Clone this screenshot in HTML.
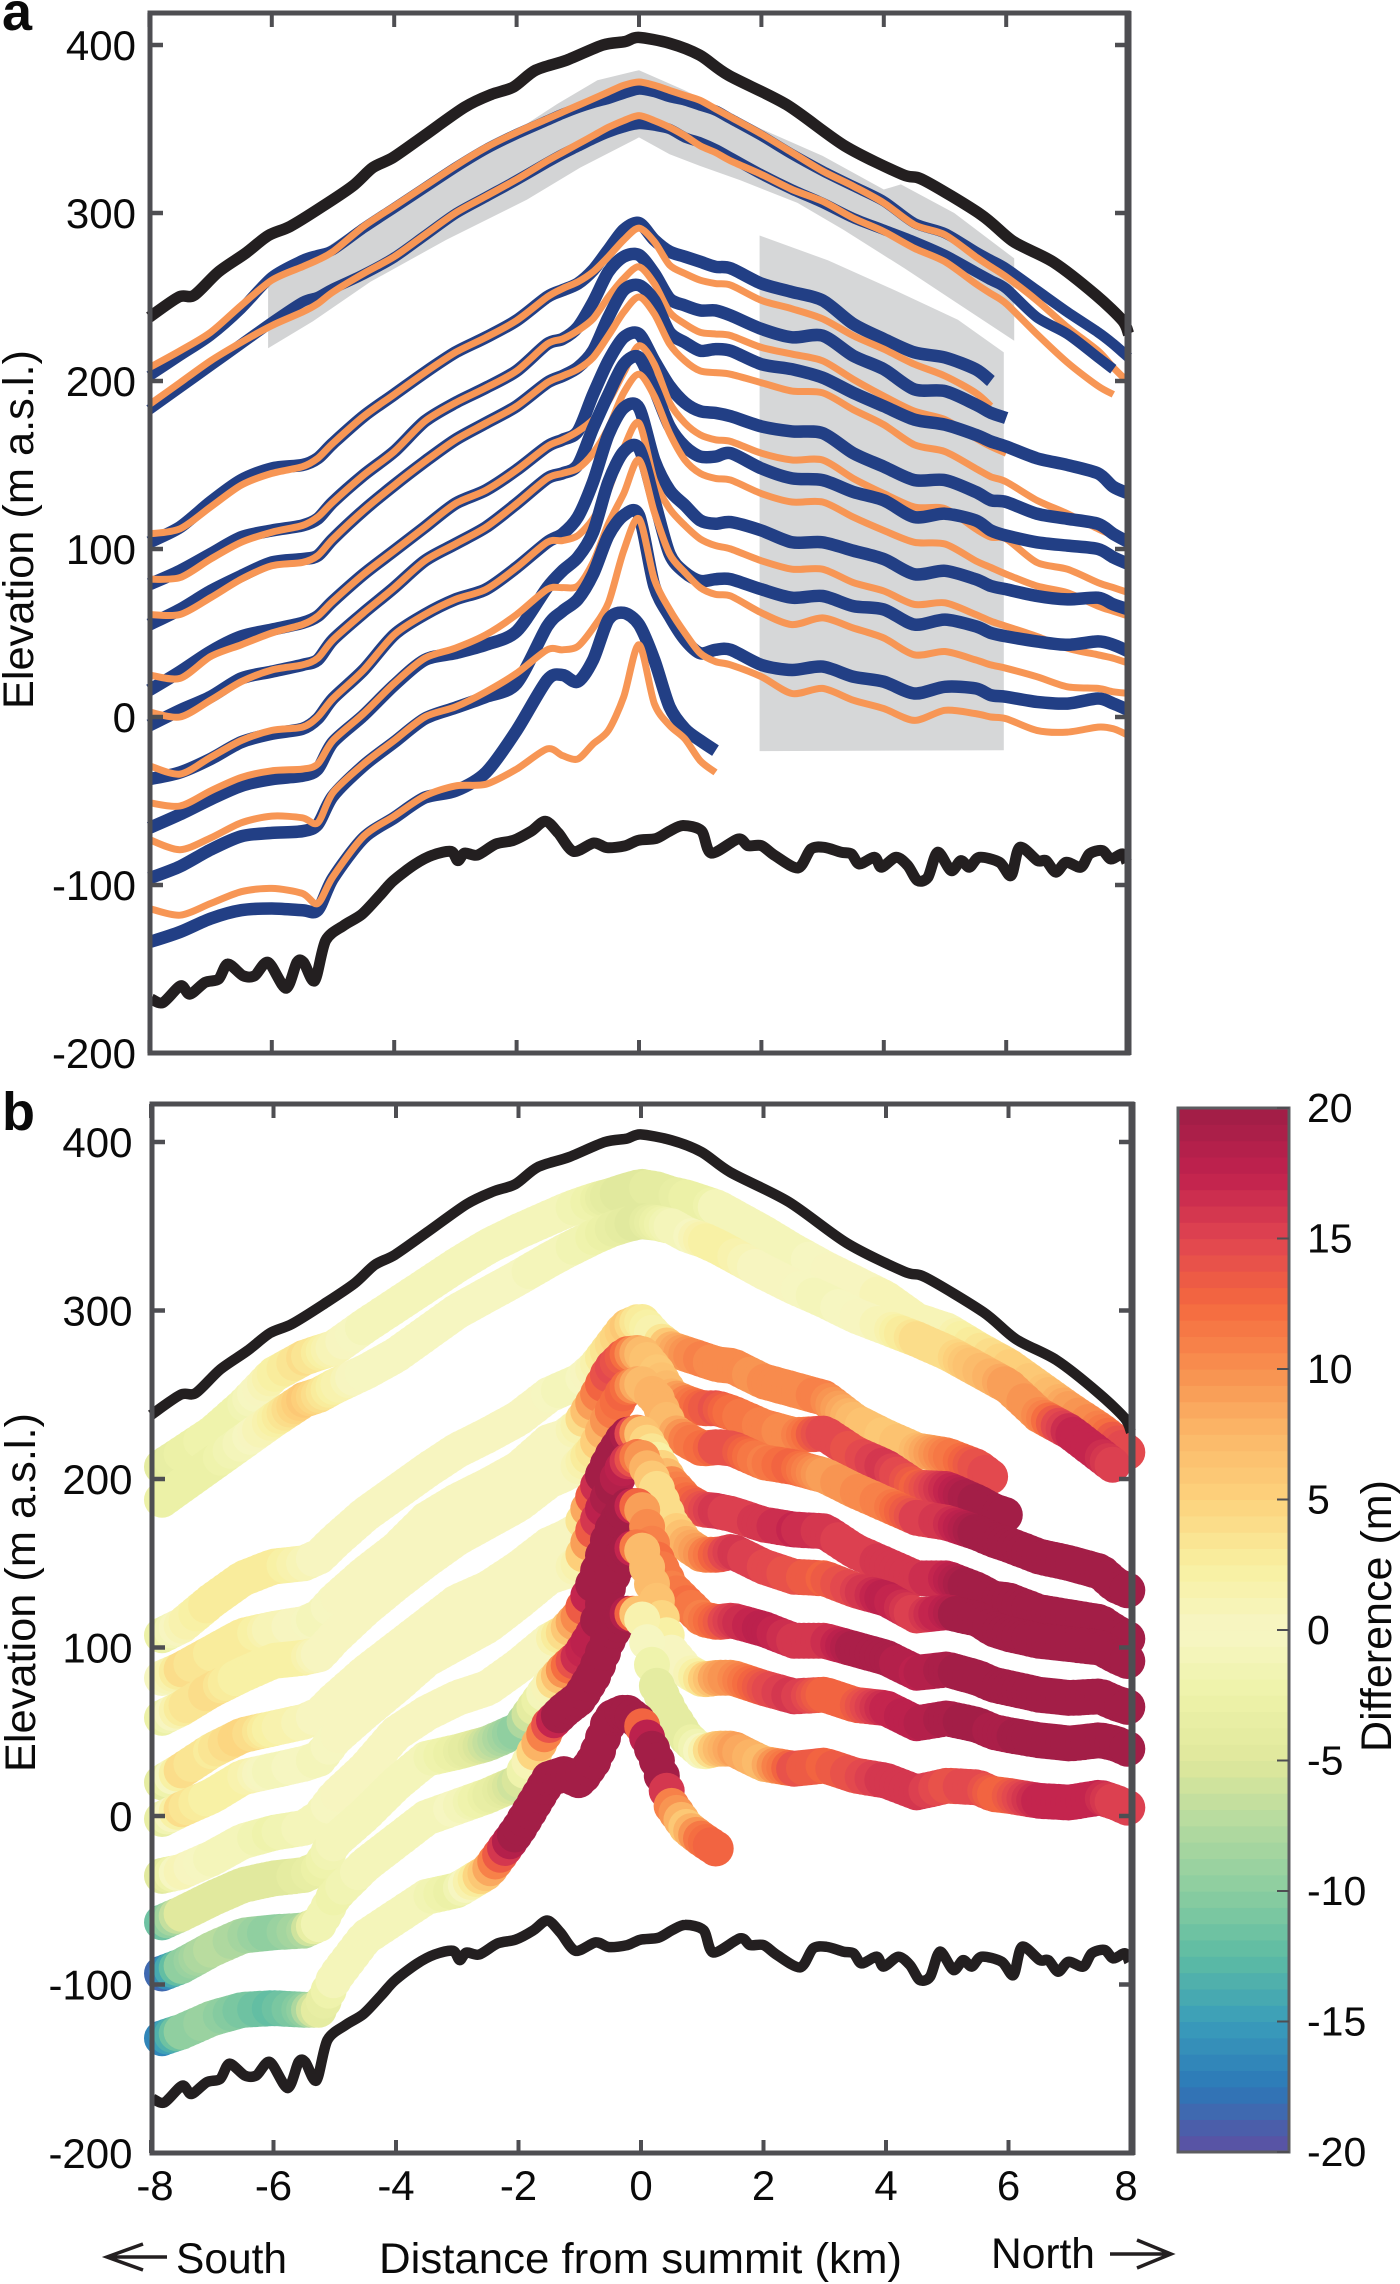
<!DOCTYPE html>
<html lang="en">
<head>
<meta charset="utf-8">
<title>Elevation profiles and difference</title>
<style>
html,body{margin:0;padding:0;background:#fff}
svg{display:block}
text{font-family:"Liberation Sans",sans-serif;fill:#0a0a0a}
</style>
</head>
<body>
<svg id="chart" xmlns="http://www.w3.org/2000/svg" width="1400" height="2284" viewBox="0 0 1400 2284">
<rect x="0" y="0" width="1400" height="2284" fill="#fff"/>
<g id="panelA"></g>
<g id="panelB"></g>
<g id="colorbar"></g>
<text x="2" y="30" font-size="54" font-weight="700">a</text>
<text x="2" y="1130" font-size="54" font-weight="700">b</text>
<text transform="translate(33,529.5) rotate(-90)" text-anchor="middle" font-size="43" textLength="359" lengthAdjust="spacingAndGlyphs">Elevation (m a.s.l.)</text>
<text transform="translate(35,1592.5) rotate(-90)" text-anchor="middle" font-size="43" textLength="359" lengthAdjust="spacingAndGlyphs">Elevation (m a.s.l.)</text>
<text transform="translate(1391,1616) rotate(-90)" text-anchor="middle" font-size="43" textLength="272" lengthAdjust="spacingAndGlyphs">Difference (m)</text>
<text x="379" y="2273" font-size="42.5" textLength="523" lengthAdjust="spacingAndGlyphs">Distance from summit (km)</text>
<text x="176" y="2273" font-size="42.5">South</text>
<text x="991" y="2268" font-size="42.5">North</text>
<path d="M167 2257H107M143 2244L107 2257L143 2270" fill="none" stroke="#231f20" stroke-width="3.5"/>
<path d="M1110 2254H1171M1137 2240L1171 2254L1137 2268" fill="none" stroke="#231f20" stroke-width="3.5"/>
</svg>
<script>
// ---------- shared axes data ----------
const xTicks = [-8,-6,-4,-2,0,2,4,6,8];
const yTicks = [400,300,200,100,0,-100,-200];
const colorTicks = [20,15,10,5,0,-5,-10,-15,-20];

// colour scale: difference (m) and colours
const colorStopValues = [-20,-17.5,-15,-12.5,-10,-7.5,-5,-2.5,0,2.5,5,7.5,10,12.5,15,17.5,20];
const colorStopHex = ['#5e4fa2','#2c78b8','#3a9dba','#5dbca3','#8bcda0','#b3da9f','#dfe89c','#eef2a8','#f7f6c4','#f8f0a0','#fdd27c','#fbb868','#f8904f','#f4693f','#e04450','#c0214e','#9f1d46'];

// ---------- distance grid used by all radar/model profiles (km) ----------
const kmGrid = [-8,-7.5,-7,-6.5,-6,-5.5,-5.25,-5,-4.5,-4,-3.5,-3,-2.5,-2,-1.5,-1.25,-1,-0.75,-0.5,-0.25,0,
  0.25,0.5,0.75,1,1.25,1.5,2,2.5,3,3.5,4,4.5,5,5.5,5.75,6,6.5,7,7.5,7.75,8];

// ---------- surface and bed (black lines) ----------
const surfaceKm = [-8,-7.52,-7.27,-6.87,-6.43,-6.06,-5.7,-5.19,-4.68,-4.35,-4.02,-3.51,-2.85,-2.42,-2.05,-1.69,-1.18,-0.59,-0.23,-0.01,0.5,0.99,1.46,2.41,3.36,4.3,4.65,5.59,6.12,6.78,7.47,7.9,8];
const surfaceElev = [238,250,251,265,276,286.5,292,303.5,316,327,333,346,363,370.5,375,385,391,400,402,404.5,401,394,382,364.5,340,323,319.6,299,283,270.6,251,236,228];
const bedKm = [-7.96,-7.78,-7.49,-7.34,-7.09,-6.87,-6.72,-6.47,-6.28,-6.06,-5.77,-5.59,-5.48,-5.3,-5.12,-4.82,-4.53,-4.24,-4.02,-3.66,-3.37,-3.07,-2.96,-2.85,-2.64,-2.34,-2.05,-1.76,-1.53,-1.32,-1.07,-0.74,-0.52,-0.23,-0.01,0.28,0.5,0.72,1.02,1.18,1.62,1.78,2,2.22,2.6,2.81,3.03,3.3,3.47,3.6,3.85,3.96,4.2,4.39,4.55,4.72,4.88,5.1,5.26,5.4,5.56,5.89,6.08,6.22,6.51,6.65,6.81,6.98,7.22,7.36,7.57,7.71,7.9,7.97];
const bedElev = [-168,-170,-160,-165,-158,-156,-147,-154,-154,-146,-161.5,-146,-146,-157,-133,-124,-117.5,-106.4,-97.6,-87.7,-82.2,-80,-85.5,-81,-82.2,-75.6,-73.4,-67.9,-62,-69,-80,-75,-77.8,-76.7,-73.4,-72.3,-67.9,-64.6,-67.7,-81,-72.6,-76.6,-76.6,-82.5,-89.8,-78.6,-77.6,-80.5,-81.5,-87.5,-83.5,-89.4,-83.5,-88.4,-97.3,-95.4,-80.5,-91.4,-85.5,-89.4,-83.5,-86.5,-94.4,-77.6,-85.5,-85.5,-92.4,-86.5,-89.4,-81.5,-79.5,-84.5,-81.5,-86.5];

// ---------- grey uncertainty patches ----------
const patchUpperKm = [-6.06,-6.06,-5.33,-4.39,-3.15,-2.05,-1.33,-0.68,0,0.75,2,3,4,4.28,5.15,6.13,6.13,5.09,4.34,3.34,2.59,1.65,1,0.5,0,-0.96,-1.83,-3.15,-4.39,-5.33];
const patchUpperElev = [219.5,258,274,297,325,348,365,379,385,373,350,334,314,317,300,273,224,249,267,290,306,319.6,328,335,345,327,308,284,259,235.5];
const patchLowerKm = [1.97,3.09,4.21,5.21,5.96,5.96,1.97];
const patchLowerElev = [286.6,271.8,253.5,236.5,217,-19.8,-20.3];

// ---------- profile values on kmGrid (blue = observed, orange = modelled) ----------
const blue1 = [203,215,227,243,262,272,275,278,291,303,315,327,338,347,355,359,362.5,365.5,368,371,373.5,372,369,367,364,361,356,346,335,325,316,307,294,288,277,272,267,254,241,229,222,214];
const orange1 = [208,218,229,245,260,268,272,277,292,304,316,328,339,348,356,360,364,368,372,376,378,376,373,370,367,362,357,347,336,325,316,306,293,287,274,268,262,248,232,218,208,199];
const blue2 = [183,196,209,222,235,247,250,255,263.5,273.5,286.5,299.5,309.5,319.5,330,335,339.5,344,348,351,353,352,350,345,342,338,333,323,314,306,297,290,283,275,265,260,255,238,228,214,207,null];
const orange2 = [186,199,212,223,233,241,246,253,264,274,287,300,310,320,331,336,341,346,351,355,358,355,351,346,340,336,331,323,314,307,297,289,279,271,258,252,246,228,211,197,192,null];
const blue3 = [104,113,128,141,148,150,154,163,179,192,205,217,226,236,250,254,258,266,278,290,294,284,277,274,271,268,267,258,253,248,234,225,217,214,207,200,null,null,null,null,null,null];
const orange3 = [109,112,125,138,145,149,154,163,179,192,205,217,226,236,250,255,259,265,274,284,291,283,269,264,260,258,257,248,243,237,227,219,210,203,193,185,null,null,null,null,null,null];
const blue4 = [79,87,97,107,111,114,118,128,144,158,176,187,196,206,222,225,232,247,265,274,275,264,249,245,242,242,239,231,226,227,215,207,195,194,186,181,178,null,null,null,null,null];
const orange4 = [82,83,94,104,110,114,119,128,144,158,176,187,196,206,222,225,230,237,250,261,268,258,241,234,229,228,227,220,216,212,201,191,182,177,166,161,157,null,null,null,null,null];
const blue5 = [55,64,75,84,92,94,96,106,123,138,152,165,175,185,199,203,208,218,238,254,257,248,229,223,218,219,218,210,207,202,193,185,177,174,168,164,161,154,150,145,137,133];
const orange5 = [61,61,71,82,90,92,96,106,123,138,152,165,175,185,199,203,207,214,227,241,250,240,222,212,206,205,204,199,194,193,183,174,162,158,148,143,140,129,121,112,108,103];
const blue6 = [16,27,39,48,52,56,60,69,85,99,113,127,135,147,161,165,170,192,212,226,228,212,197,187,182,181,179,173,170,169,157,149,141,141,134,129,128,121,118,115,109,104];
const orange6 = [25,23,36,43,50,55,60,69,85,99,113,127,135,147,161,165,170,177,188,205,221,210,187,175,168,165,164,157,153,153,142,133,125,124,112,107,106,92,88,80,77,74];
const blue7 = [-5,4,12,23,27,31,34,46,62,77,93,103,113,127,142,145,150,172,192,210,214,195,173,161,155,155,157,148,142,141,134,129,119,121,117,111,108,104,102,100,95,91];
const orange7 = [3,0,10,21,28,31,35,46,62,77,93,103,113,127,142,145,148,157,172,193,204,191,169,153,145,142,141,133,128,128,119,111,104,103,93,89,85,78,74,66,63,60];
const blue8 = [-37,-33,-25,-15,-10,-7,-1,11,28,49,61,70,76,89,104,109,119,140,168,184,184,153,135,126,117,115,116,111,104,104,99,94,85,87,82,78,76,72,70,71,67,64];
const orange8 = [-29,-34,-24,-14,-8,-6,0,11,28,49,61,70,76,89,104,105,108,118,135,160,175,141,124,114,106,102,100,93,88,88,80,75,67,68,61,57,54,48,41,37,35,32];
const blue9 = [-66,-58,-49,-41,-37,-35,-31,-15,1,19,34,38,43,51,77,87,95,110,140,158,160,129,97,86,81,82,82,76,71,72,66,64,55,58,54,50,48,45,43,45,43,39];
const orange9 = [-51,-53,-44,-36,-32,-31,-28,-14,2,20,35,41,49,61,76,77,78,92,115,133,153,122,97,86,77,73,72,62,55,59,53,47,37,39,34,31,29,24,18,17,15,14];
const blue10 = [-96,-89,-79,-71,-69,-68,-64,-47,-29,-15,-1,5.5,12,20,54,63,70,85,108,120,120,78,60,46,38,40,40,31,28,30,24,21,14,18,17,13,12,9,8,11,8,4];
const orange10 = [-73,-79,-72,-63,-59,-60,-63,-45,-28,-14,0,6,15,26,40,40,42,53,68,99,118,82,64,50,38,33,31,24,14,17,10,5,-2,4,2,0,-1,-8,-9,-6,-7,-11];
const blue11 = [-134,-128,-120,-115,-114,-115,-115,-96,-72,-60,-48,-44,-33,-8,22,25,21,34,58,62,55,34,6,-7,-14,-20,null,null,null,null,null,null,null,null,null,null,null,null,null,null,null,null];
const orange11 = [-114,-118,-111,-104,-102,-105,-111,-95,-71,-59,-47,-41,-40,-31,-19,-23,-25,-16,-8,12,43,8,-5,-13,-26,-33,null,null,null,null,null,null,null,null,null,null,null,null,null,null,null,null];

const blueSeries = [blue1,blue2,blue3,blue4,blue5,blue6,blue7,blue8,blue9,blue10,blue11];
const orangeSeries = [orange1,orange2,orange3,orange4,orange5,orange6,orange7,orange8,orange9,orange10,orange11];

// ---------- axis functions ----------
function xA(km){return 639+61.2*km;}
function yA(v){return 45+(400-v)*1.68;}
function xB(km){return 641+61.25*km;}
function yB(v){return 1142+(400-v)*1.685;}
function yC(v){return 1108+(20-v)*(1044/40);}

const NS='http://www.w3.org/2000/svg';
function make(tag,parent,attrs){
  const el=document.createElementNS(NS,tag);
  for(const k in attrs){el.setAttribute(k,attrs[k]);}
  parent.appendChild(el);
  return el;
}
// smooth path through the non-null points of a series
function linePath(xs,ys,fx,fy){
  const pts=[];
  for(let i=0;i<xs.length;i++){
    if(ys[i]!==null){pts.push([fx(xs[i]),fy(ys[i])]);}
  }
  const k=1/7;
  let d='M'+pts[0][0].toFixed(1)+' '+pts[0][1].toFixed(1);
  for(let i=0;i<pts.length-1;i++){
    const p0=pts[Math.max(0,i-1)],p1=pts[i],p2=pts[i+1],p3=pts[Math.min(pts.length-1,i+2)];
    const c1x=p1[0]+(p2[0]-p0[0])*k,c1y=p1[1]+(p2[1]-p0[1])*k;
    const c2x=p2[0]-(p3[0]-p1[0])*k,c2y=p2[1]-(p3[1]-p1[1])*k;
    d+='C'+c1x.toFixed(1)+' '+c1y.toFixed(1)+' '+c2x.toFixed(1)+' '+c2y.toFixed(1)+' '+p2[0].toFixed(1)+' '+p2[1].toFixed(1);
  }
  return d;
}
function interp(xs,ys,x){
  for(let i=0;i<xs.length-1;i++){
    if(x>=xs[i]&&x<=xs[i+1]){
      if(ys[i]===null||ys[i+1]===null){return null;}
      return ys[i]+(ys[i+1]-ys[i])*(x-xs[i])/(xs[i+1]-xs[i]);
    }
  }
  return null;
}
function lastKm(ys){
  let last=0;
  for(let i=0;i<ys.length;i++){if(ys[i]!==null){last=kmGrid[i];}}
  return last;
}
function hexToRgb(h){return [parseInt(h.substr(1,2),16),parseInt(h.substr(3,2),16),parseInt(h.substr(5,2),16)];}
function colorFor(v){
  const levels=64;
  let idx=Math.floor((v+20)/40*levels);
  idx=Math.max(0,Math.min(levels-1,idx));
  const q=-20+(idx+0.5)*40/levels;
  let i=0;
  while(i<colorStopValues.length-2&&q>colorStopValues[i+1]){i++;}
  const t=(q-colorStopValues[i])/(colorStopValues[i+1]-colorStopValues[i]);
  const a=hexToRgb(colorStopHex[i]),b=hexToRgb(colorStopHex[i+1]);
  return 'rgb('+Math.round(a[0]+(b[0]-a[0])*t)+','+Math.round(a[1]+(b[1]-a[1])*t)+','+Math.round(a[2]+(b[2]-a[2])*t)+')';
}

const AXIS='#4e4e52';
function drawFrame(group,fx,fy,left,right,top,bottom,prefix){
  const frame=make('rect',group,{x:left,y:top,width:right-left,height:bottom-top,fill:'none',stroke:AXIS,'stroke-width':5});
  
  
  const rightEdge=make('line',group,{x1:right,x2:right,y1:top-2,y2:bottom+2,stroke:AXIS,'stroke-width':7});
  
  
  xTicks.forEach(function(t){
    const b=make('line',group,{x1:fx(t),x2:fx(t),y1:bottom,y2:bottom-13,stroke:AXIS,'stroke-width':4});
    
    
    const u=make('line',group,{x1:fx(t),x2:fx(t),y1:top,y2:top+14,stroke:AXIS,'stroke-width':4});
    
    
  });
  yTicks.forEach(function(t){
    const l=make('line',group,{x1:left,x2:left+13,y1:fy(t),y2:fy(t),stroke:AXIS,'stroke-width':4.5});
    
    
    const r=make('line',group,{x1:right,x2:right-13,y1:fy(t),y2:fy(t),stroke:AXIS,'stroke-width':4.5});
    
    
  });
}
function drawYLabels(group,fy,rightX,prefix){
  yTicks.forEach(function(t){
    const lab=make('text',group,{x:rightX,y:fy(t)+15,'text-anchor':'end','font-size':42});
    lab.textContent=String(t);
    
    
  });
}

// ---------- panel a ----------
const gA=document.getElementById('panelA');
function polyPoints(xs,ys){
  return xs.map(function(x,i){return xA(x).toFixed(1)+','+yA(ys[i]).toFixed(1);}).join(' ');
}
const patchU=make('polygon',gA,{points:polyPoints(patchUpperKm,patchUpperElev),fill:'#d3d4d5'});


const patchL=make('polygon',gA,{points:polyPoints(patchLowerKm,patchLowerElev),fill:'#d6d7d8'});



blueSeries.forEach(function(b,i){
  const bl=make('path',gA,{d:linePath(kmGrid,b,xA,yA),fill:'none',stroke:'#223f85','stroke-width':i<2?10.5:12.5,'stroke-linejoin':'round'});
  
  
  const or=make('path',gA,{d:linePath(kmGrid,orangeSeries[i],xA,yA),fill:'none',stroke:'#f79655','stroke-width':7,'stroke-linejoin':'round'});
  
  
});
const surfA=make('path',gA,{d:linePath(surfaceKm,surfaceElev,xA,yA),fill:'none',stroke:'#231f20','stroke-width':11.5,'stroke-linejoin':'round'});


const bedA=make('path',gA,{d:linePath(bedKm,bedElev,xA,yA),fill:'none',stroke:'#231f20','stroke-width':11,'stroke-linejoin':'round'});


drawFrame(gA,xA,yA,150,1128,13,1053,'panel-a');
drawYLabels(gA,yA,136,'panel-a');

// ---------- panel b ----------
const gB=document.getElementById('panelB');
const markerStartKm=-7.82;
const markerStepKm=0.08;
blueSeries.forEach(function(b,i){
  const o=orangeSeries[i];
  const end=lastKm(b);
  const g=make('g',gB,{});
  
  
  for(let km=markerStartKm;km<=end+1e-6;km+=markerStepKm){
    const bv=interp(kmGrid,b,Math.min(km,end));
    const ov=interp(kmGrid,o,Math.min(km,end));
    if(bv===null||ov===null){continue;}
    const c=make('circle',g,{cx:xB(km).toFixed(1),cy:yB(bv).toFixed(1),r:18,fill:colorFor(bv-ov)});
    
    
  }
});
const surfB=make('path',gB,{d:linePath(surfaceKm,surfaceElev,xB,yB),fill:'none',stroke:'#231f20','stroke-width':10.5,'stroke-linejoin':'round'});


const bedB=make('path',gB,{d:linePath(bedKm,bedElev,xB,yB),fill:'none',stroke:'#231f20','stroke-width':10.5,'stroke-linejoin':'round'});


drawFrame(gB,xB,yB,152,1132,1104,2153,'panel-b');
drawYLabels(gB,yB,132.5,'panel-b');
xTicks.forEach(function(t){
  const nudge=t===-8?4:(t===8?-5:0);
  const lab=make('text',gB,{x:xB(t)+nudge,y:2200,'text-anchor':'middle','font-size':42});
  lab.textContent=String(t);
  
  
});

// ---------- colour bar ----------
const gC=document.getElementById('colorbar');
const barLevels=64;
for(let i=0;i<barLevels;i++){
  const lo=-20+i*40/barLevels;
  const hi=-20+(i+1)*40/barLevels;
  const r=make('rect',gC,{x:1178,y:yC(hi).toFixed(2),width:111,height:(yC(lo)-yC(hi)+0.6).toFixed(2),fill:colorFor((lo+hi)/2)});
  
  
}
const cbFrame=make('rect',gC,{x:1178,y:1108,width:111,height:1044,fill:'none',stroke:'#5c5c60','stroke-width':3});


colorTicks.forEach(function(t){
  const tk=make('line',gC,{x1:1289,x2:1277,y1:yC(t),y2:yC(t),stroke:'#4e4e52','stroke-width':2});
  
  
  const lab=make('text',gC,{x:1307,y:yC(t)+14,'font-size':41});
  lab.textContent=String(t);
  
  
});
</script>
</body>
</html>
